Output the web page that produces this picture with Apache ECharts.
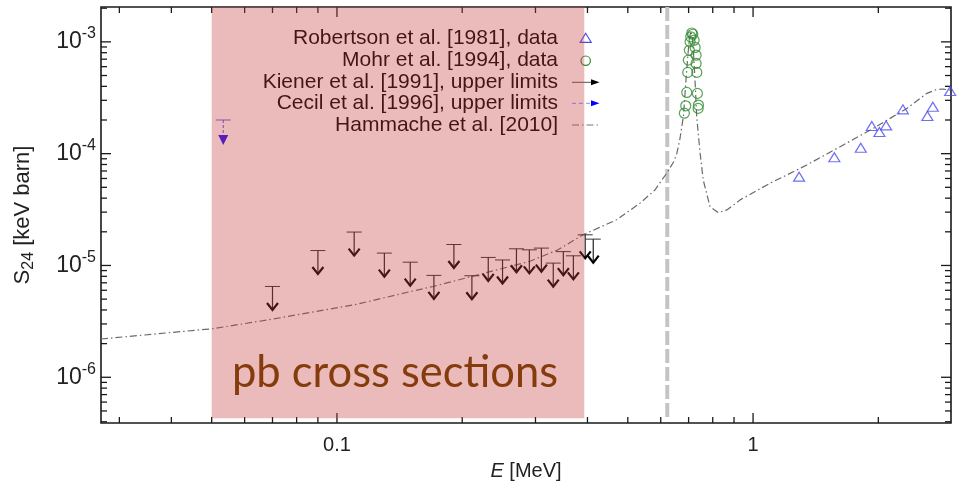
<!DOCTYPE html>
<html>
<head>
<meta charset="utf-8">
<script src="https://cdn.jsdelivr.net/npm/echarts@6.0.0/dist/echarts.min.js"></script>
<style>
  html, body { margin: 0; padding: 0; background: #ffffff; }
  #chart { width: 961px; height: 489px; }
</style>
</head>
<body>
<div id="chart"></div>
<script>
// Astrophysical S-factor of 23Na(p,gamma)24Mg: E in MeV, S24 in keV barn

// Robertson et al. [1981], data
const robertsonE = [1.290, 1.568, 1.815, 1.929, 2.012, 2.088, 2.291, 2.624, 2.704, 2.976];
const robertsonS = [6.23e-5, 9.29e-5, 1.13e-4, 1.77e-4, 1.56e-4, 1.79e-4, 2.49e-4, 2.17e-4, 2.63e-4, 3.63e-4];

// Mohr et al. [1994], data (resonance scan)
const mohrE = [0.6838, 0.6890, 0.6929, 0.6967, 0.6991, 0.7030, 0.7057, 0.7084, 0.7124,
               0.7164, 0.7217, 0.7257, 0.7297, 0.7297, 0.7325, 0.7349, 0.7390, 0.7378];
const mohrS = [2.30e-4, 2.68e-4, 3.53e-4, 5.33e-4, 6.87e-4, 8.44e-4, 1.00e-3, 1.11e-3, 1.20e-3,
               1.17e-3, 1.035e-3, 8.91e-4, 7.60e-4, 6.41e-4, 5.33e-4, 3.46e-4, 2.72e-4, 2.54e-4];

// Kiener et al. [1991], upper limits
const kienerE = [0.070, 0.090, 0.110, 0.130, 0.150, 0.171, 0.191, 0.211, 0.231,
                 0.250, 0.270, 0.290, 0.310, 0.331, 0.350, 0.370, 0.395, 0.413];
const kienerS = [6.49e-6, 1.36e-5, 1.99e-5, 1.29e-5, 1.07e-5, 8.15e-6, 1.54e-5, 8.09e-6, 1.18e-5,
                 1.12e-5, 1.41e-5, 1.38e-5, 1.43e-5, 1.05e-5, 1.33e-5, 1.22e-5, 1.88e-5, 1.72e-5];

// Cecil et al. [1996], upper limit
const cecilE = [0.0533];
const cecilS = [2.0e-4];

// Hammache et al. [2010], S-factor curve
const hammacheE = [0.0271, 0.0503, 0.0703, 0.1105, 0.1507, 0.1704, 0.291, 0.3396, 0.390, 0.470, 0.535,
                   0.580, 0.620, 0.645, 0.656, 0.667, 0.674, 0.680, 0.690, 0.697, 0.703, 0.709,
                   0.715, 0.721, 0.726, 0.732, 0.746, 0.759, 0.788, 0.825, 0.865, 0.931, 1.099,
                   1.346, 1.619, 1.946, 2.342, 2.616, 2.765, 2.862, 2.977];
const hammacheS = [2.20e-6, 2.72e-6, 3.32e-6, 4.46e-6, 5.86e-6, 6.49e-6, 1.09e-5, 1.38e-5, 1.88e-5, 2.56e-5, 3.61e-5,
                   4.70e-5, 6.68e-5, 8.50e-5, 1.01e-4, 1.35e-4, 1.74e-4, 2.14e-4, 4.60e-4, 7.50e-4, 1.08e-3, 1.25e-3,
                   1.08e-3, 7.00e-4, 4.20e-4, 2.14e-4, 1.01e-4, 5.82e-5, 3.36e-5, 2.97e-5, 3.14e-5, 3.86e-5, 5.44e-5,
                   7.92e-5, 1.155e-4, 1.686e-4, 2.54e-4, 3.46e-4, 3.76e-4, 3.78e-4, 3.71e-4];

// Vertical marker energy and the shaded "pb cross sections" window
const thresholdE = [0.622];
const pbWindowE = [0.05, 0.393];
const pbWindowS = [4.3e-7, 2.05e-3];

// Axis extents and tick positions
const xRange = [0.0271, 2.99];
const yRange = [3.9e-7, 2.05e-3];
const xMajorTicks = [0.1, 1];
const xMinorTicks = [0.03, 0.04, 0.05, 0.06, 0.07, 0.08, 0.09, 0.2, 0.3, 0.4, 0.5, 0.6, 0.7, 0.8, 0.9, 2];
const yMajorTicks = [1e-6, 1e-5, 1e-4, 1e-3];
const yMinorTicks = [4e-7, 5e-7, 6e-7, 7e-7, 8e-7, 9e-7,
                     2e-6, 3e-6, 4e-6, 5e-6, 6e-6, 7e-6, 8e-6, 9e-6,
                     2e-5, 3e-5, 4e-5, 5e-5, 6e-5, 7e-5, 8e-5, 9e-5,
                     2e-4, 3e-4, 4e-4, 5e-4, 6e-4, 7e-4, 8e-4, 9e-4, 2e-3];

const legendLabels = ['Robertson et al. [1981], data', 'Mohr et al. [1994], data',
                      'Kiener et al. [1991], upper limits', 'Cecil et al. [1996], upper limits',
                      'Hammache et al. [2010]'];
const pbLabel = 'pb cross sections';

const FONT = '"Liberation Sans", Arial, Helvetica, sans-serif';
const zip = (a, b) => a.map((v, i) => [v, b[i]]);
const isPow10 = v => Math.abs(Math.log10(v) - Math.round(Math.log10(v))) < 1e-6;

const chart = echarts.init(document.getElementById('chart'), null, { renderer: 'canvas' });

// Upper-limit marker: bar at the limit, stem and arrow head pointing down
function kienerItem(params, api) {
  const p = api.coord([api.value(0), api.value(1)]);
  const x = p[0], y = p[1];
  return {
    type: 'group',
    children: [
      { type: 'line', shape: { x1: x - 7.5, y1: y, x2: x + 7.5, y2: y }, style: { stroke: '#333', lineWidth: 1 } },
      { type: 'line', shape: { x1: x, y1: y, x2: x, y2: y + 23 }, style: { stroke: '#222', lineWidth: 1.2 } },
      { type: 'polyline', shape: { points: [[x - 5.5, y + 16.5], [x, y + 23.5], [x + 5.5, y + 16.5]] },
        style: { stroke: '#000', lineWidth: 2.2, fill: null } }
    ]
  };
}

function cecilItem(params, api) {
  const p = api.coord([api.value(0), api.value(1)]);
  const x = p[0], y = p[1];
  return {
    type: 'group',
    children: [
      { type: 'line', shape: { x1: x - 7.5, y1: y, x2: x + 7.5, y2: y }, style: { stroke: '#6f5cff', lineWidth: 1 } },
      { type: 'line', shape: { x1: x, y1: y, x2: x, y2: y + 16 }, style: { stroke: '#5a4cff', lineWidth: 1, lineDash: [3, 2] } },
      { type: 'polygon', shape: { points: [[x - 5, y + 15], [x, y + 25], [x + 5, y + 15]] },
        style: { fill: '#1a10ff' } }
    ]
  };
}

function xTickItem(params, api) {
  const cs = params.coordSys;
  const len = api.value(2) ? 10 : 6;
  const px = api.coord([api.value(0), yRange[1]])[0];
  const st = { stroke: '#1a1a1a', lineWidth: 1.3 };
  return {
    type: 'group',
    children: [
      { type: 'line', shape: { x1: px, y1: cs.y + cs.height, x2: px, y2: cs.y + cs.height - len }, style: st },
      { type: 'line', shape: { x1: px, y1: cs.y, x2: px, y2: cs.y + len }, style: st }
    ]
  };
}

function yTickItem(params, api) {
  const cs = params.coordSys;
  const len = api.value(2) ? 10 : 6;
  const py = api.coord([xRange[0], api.value(1)])[1];
  const st = { stroke: '#1a1a1a', lineWidth: 1.3 };
  return {
    type: 'group',
    children: [
      { type: 'line', shape: { x1: cs.x, y1: py, x2: cs.x + len, y2: py }, style: st },
      { type: 'line', shape: { x1: cs.x + cs.width, y1: py, x2: cs.x + cs.width - len, y2: py }, style: st }
    ]
  };
}

function thresholdItem(params, api) {
  const top = api.coord([api.value(0), yRange[1]]);
  const bot = api.coord([api.value(0), pbWindowS[0]]);
  return {
    type: 'line',
    shape: { x1: top[0], y1: top[1], x2: bot[0], y2: bot[1] },
    style: { stroke: '#c4c4c4', lineWidth: 4, lineDash: [14, 4] }
  };
}

function pbWindowItem(params, api) {
  const a = api.coord([api.value(0), api.value(1)]);
  const b = api.coord([api.value(2), api.value(3)]);
  return {
    type: 'group',
    children: [
      { type: 'rect', shape: { x: a[0], y: b[1], width: b[0] - a[0], height: a[1] - b[1] },
        style: { fill: 'rgba(198,57,57,0.35)' } },
      { type: 'text', z2: 5,
        style: { text: pbLabel, x: (a[0] + b[0]) / 2 - 3, y: a[1] - 23, align: 'center', verticalAlign: 'bottom',
                 font: '43.5px Lato, "Open Sans", sans-serif', fill: '#843C0C' } }
    ]
  };
}

// Legend drawn as right-aligned labels with sample marks to their right
const legendRowsY = [38.3, 60.7, 82.3, 103.3, 125];
const legendTextX = 558;
const legendGraphics = [];
legendLabels.forEach((t, i) => {
  legendGraphics.push({
    type: 'text', x: legendTextX, y: legendRowsY[i], z: 1,
    style: { text: t, font: '21px ' + FONT, fill: '#000', align: 'right', verticalAlign: 'middle' }
  });
});
legendGraphics.push(
  { type: 'polygon', z: 1, shape: { points: [[585.7, legendRowsY[0] - 5], [580.2, legendRowsY[0] + 4], [591.2, legendRowsY[0] + 4]] },
    style: { fill: null, stroke: '#4b4bf0', lineWidth: 1.2 } },
  { type: 'circle', z: 1, shape: { cx: 585.7, cy: legendRowsY[1], r: 4.7 },
    style: { fill: null, stroke: '#2e8b2e', lineWidth: 1.2 } },
  { type: 'line', z: 1, shape: { x1: 572, y1: legendRowsY[2], x2: 592, y2: legendRowsY[2] },
    style: { stroke: '#555', lineWidth: 1 } },
  { type: 'polygon', z: 1, shape: { points: [[591, legendRowsY[2] - 3], [599.5, legendRowsY[2]], [591, legendRowsY[2] + 3]] },
    style: { fill: '#000' } },
  { type: 'line', z: 1, shape: { x1: 572, y1: legendRowsY[3], x2: 592, y2: legendRowsY[3] },
    style: { stroke: '#8c8cff', lineWidth: 1, lineDash: [4, 3] } },
  { type: 'polygon', z: 1, shape: { points: [[591, legendRowsY[3] - 3], [599.5, legendRowsY[3]], [591, legendRowsY[3] + 3]] },
    style: { fill: '#0000ff' } },
  { type: 'line', z: 1, shape: { x1: 572, y1: legendRowsY[4], x2: 598, y2: legendRowsY[4] },
    style: { stroke: '#777', lineWidth: 1.2, lineDash: [7, 3, 1.5, 3] } }
);

const option = {
  animation: false,
  backgroundColor: '#ffffff',
  grid: { left: 101, right: 10, top: 7, bottom: 66, show: true, borderColor: '#1a1a1a', borderWidth: 1.6,
          backgroundColor: 'transparent' },
  xAxis: {
    type: 'log', logBase: 10, min: xRange[0], max: xRange[1],
    axisLine: { show: false }, axisTick: { show: false }, splitLine: { show: false }, minorTick: { show: false },
    axisLabel: {
      showMinLabel: false, showMaxLabel: false, margin: 12,
      color: '#222', fontSize: 20, fontFamily: FONT,
      formatter: v => (isPow10(v) ? String(Number(v.toPrecision(3))) : '')
    },
    name: '{i|E}{a| [MeV]}', nameLocation: 'middle', nameGap: 38,
    nameTextStyle: {
      rich: {
        i: { fontStyle: 'italic', fontSize: 20, fontFamily: FONT, color: '#222' },
        a: { fontSize: 20, fontFamily: FONT, color: '#222' }
      }
    }
  },
  yAxis: {
    type: 'log', logBase: 10, min: yRange[0], max: yRange[1],
    axisLine: { show: false }, axisTick: { show: false }, splitLine: { show: false }, minorTick: { show: false },
    axisLabel: {
      showMinLabel: false, showMaxLabel: false, margin: 5,
      formatter: v => (isPow10(v) ? '{b|10}{s|' + Math.round(Math.log10(v)) + '}' : ''),
      rich: {
        b: { fontSize: 23, fontFamily: FONT, color: '#222', lineHeight: 32 },
        s: { fontSize: 16, fontFamily: FONT, color: '#222', lineHeight: 16, verticalAlign: 'top' }
      }
    },
    name: '{a|S}{sub|24}{a| [keV barn]}', nameLocation: 'middle', nameGap: 64,
    nameTextStyle: {
      rich: {
        a: { fontSize: 22, fontFamily: FONT, color: '#222', lineHeight: 28 },
        sub: { fontSize: 16, fontFamily: FONT, color: '#222', lineHeight: 15, verticalAlign: 'bottom' }
      }
    }
  },
  graphic: legendGraphics,
  series: [
    {
      type: 'custom', name: 'xticks', silent: true, z: 3,
      data: xMajorTicks.map(v => [v, yRange[1], 1]).concat(xMinorTicks.map(v => [v, yRange[1], 0])),
      renderItem: xTickItem
    },
    {
      type: 'custom', name: 'yticks', silent: true, z: 3,
      data: yMajorTicks.map(v => [xRange[0], v, 1]).concat(yMinorTicks.map(v => [xRange[0], v, 0])),
      renderItem: yTickItem
    },
    {
      type: 'custom', name: 'threshold', silent: true, z: 1,
      data: thresholdE.map(v => [v, yRange[1]]),
      renderItem: thresholdItem
    },
    {
      type: 'line', name: legendLabels[4], data: zip(hammacheE, hammacheS),
      showSymbol: false, smooth: false, z: 2,
      lineStyle: { color: '#6a6a6a', width: 1.2, type: [7, 3, 1.5, 3] }
    },
    {
      type: 'scatter', name: legendLabels[0], data: zip(robertsonE, robertsonS),
      symbol: 'triangle', symbolSize: [11, 9], z: 4,
      itemStyle: { color: 'rgba(0,0,0,0)', borderColor: '#4b4bf0', borderWidth: 1.2 }
    },
    {
      type: 'scatter', name: legendLabels[1], data: zip(mohrE, mohrS),
      symbol: 'circle', symbolSize: 10, z: 4,
      itemStyle: { color: 'rgba(0,0,0,0)', borderColor: '#2e8b2e', borderWidth: 1.2 }
    },
    {
      type: 'custom', name: legendLabels[2], data: zip(kienerE, kienerS), z: 4,
      renderItem: kienerItem
    },
    {
      type: 'custom', name: legendLabels[3], data: zip(cecilE, cecilS), z: 4,
      renderItem: cecilItem
    },
    {
      type: 'custom', name: 'pb window', silent: true, z: 10,
      data: [[pbWindowE[0], pbWindowS[0], pbWindowE[1], pbWindowS[1]]],
      renderItem: pbWindowItem
    }
  ]
};

chart.setOption(option);
</script>
</body>
</html>
